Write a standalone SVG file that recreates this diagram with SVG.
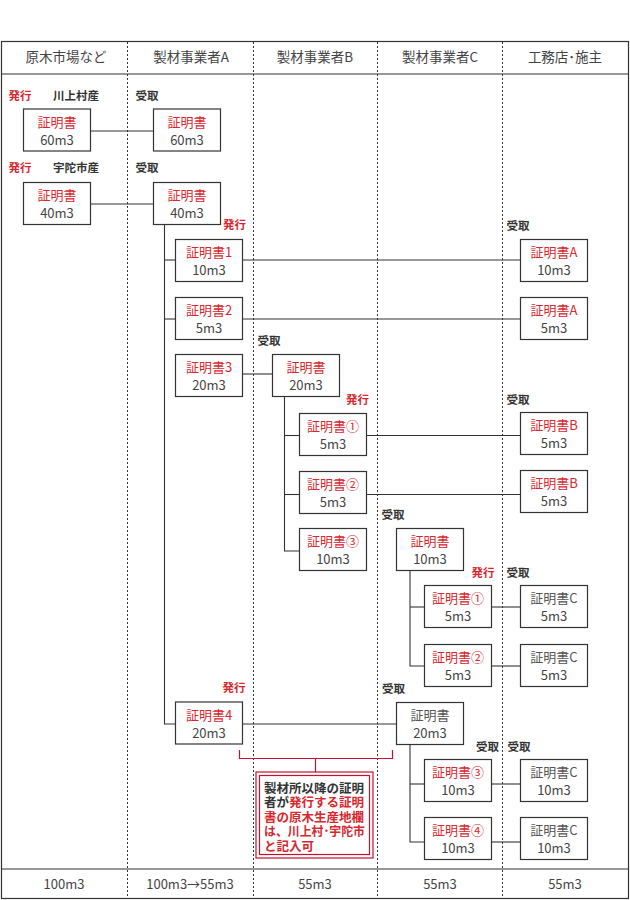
<svg xmlns="http://www.w3.org/2000/svg" width="630" height="900" viewBox="0 0 630 900">
<style>
text{font-family:"Noto Sans CJK JP","Noto Sans",sans-serif}
.hd{font-size:13.5px;fill:#444;text-anchor:middle}
.ft{font-size:13px;fill:#444;text-anchor:middle}
.box{fill:#fff;stroke:#333;stroke-width:1.2}
.t1{font-size:13px;fill:#d7282f;text-anchor:middle}
.t1g{font-size:13px;fill:#555;text-anchor:middle}
.t2{font-size:13px;fill:#444;text-anchor:middle}
.iss{font-size:11.5px;font-weight:bold;fill:#d7282f}
.rcv{font-size:11.5px;font-weight:bold;fill:#333}
.ln{stroke:#333;stroke-width:1.1;fill:none}
.dot{stroke:#333;stroke-width:1;stroke-dasharray:2 2}
.red{stroke:#c8102e;stroke-width:1.2;fill:none}
.nt{font-size:12.5px;font-weight:bold;fill:#333}
.nr{fill:#d7282f}
</style>
<rect x="0" y="0" width="630" height="900" fill="#fff"/>
<g id="frame">
<rect x="1.5" y="41.5" width="627" height="857" fill="none" stroke="#333" stroke-width="1.2"/>
<line x1="1.5" y1="74" x2="628.5" y2="74" stroke="#333" stroke-width="1.2"/>
<line x1="1.5" y1="869" x2="628.5" y2="869" stroke="#333" stroke-width="1.2"/>
<line class="dot" x1="127.5" y1="42" x2="127.5" y2="898"/>
<line class="dot" x1="253.5" y1="42" x2="253.5" y2="898"/>
<line class="dot" x1="377.5" y1="42" x2="377.5" y2="898"/>
<line class="dot" x1="502.5" y1="42" x2="502.5" y2="898"/>
</g>
<g id="header">
<text class="hd" x="66" y="62">原木市場など</text>
<text class="hd" x="191" y="62">製材事業者A</text>
<text class="hd" x="315" y="62">製材事業者B</text>
<text class="hd" x="440" y="62">製材事業者C</text>
<text class="hd" x="565" y="62">工務店･施主</text>
</g>
<g id="footer">
<text class="ft" x="64" y="889">100m3</text>
<text class="ft" x="190" y="889">100m3→55m3</text>
<text class="ft" x="315" y="889">55m3</text>
<text class="ft" x="440" y="889">55m3</text>
<text class="ft" x="565" y="889">55m3</text>
</g>
<g id="labels">
<text class="iss" x="8.5" y="100">発行</text>
<text class="rcv" x="53" y="100">川上村産</text>
<text class="rcv" x="135.5" y="100">受取</text>
<text class="iss" x="8.5" y="172">発行</text>
<text class="rcv" x="53" y="172">宇陀市産</text>
<text class="rcv" x="135.5" y="172">受取</text>
<text class="iss" x="223" y="229">発行</text>
<text class="rcv" x="506.5" y="229.5">受取</text>
<text class="rcv" x="257.5" y="345">受取</text>
<text class="iss" x="346" y="403.5">発行</text>
<text class="rcv" x="506.5" y="404">受取</text>
<text class="rcv" x="381.5" y="519">受取</text>
<text class="iss" x="471.5" y="576.5">発行</text>
<text class="rcv" x="506.5" y="576.5">受取</text>
<text class="iss" x="222.5" y="691.5">発行</text>
<text class="rcv" x="382" y="692.5">受取</text>
<text class="rcv" x="476" y="750.5">受取</text>
<text class="rcv" x="507.5" y="750.5">受取</text>
</g>
<g id="connectors">
<line class="ln" x1="90" y1="131" x2="153" y2="131"/>
<line class="ln" x1="90" y1="204" x2="153" y2="204"/>
<polyline class="ln" points="164.5,224 164.5,724 176,724"/>
<line class="ln" x1="164.5" y1="260" x2="176" y2="260"/>
<line class="ln" x1="164.5" y1="319" x2="176" y2="319"/>
<line class="ln" x1="242" y1="260" x2="520" y2="260"/>
<line class="ln" x1="242" y1="319" x2="520" y2="319"/>
<line class="ln" x1="242" y1="374" x2="272" y2="374"/>
<polyline class="ln" points="284.5,396 284.5,551 299,551"/>
<line class="ln" x1="284.5" y1="435.5" x2="299" y2="435.5"/>
<line class="ln" x1="284.5" y1="494.5" x2="299" y2="494.5"/>
<line class="ln" x1="367" y1="435.5" x2="520" y2="435.5"/>
<line class="ln" x1="367" y1="494.5" x2="520" y2="494.5"/>
<polyline class="ln" points="410,570 410,666 424,666"/>
<line class="ln" x1="410" y1="607" x2="424" y2="607"/>
<line class="ln" x1="491" y1="607" x2="520" y2="607"/>
<line class="ln" x1="491" y1="666" x2="520" y2="666"/>
<line class="ln" x1="242" y1="724" x2="396" y2="724"/>
<polyline class="ln" points="410,744 410,842 424,842"/>
<line class="ln" x1="410" y1="784" x2="424" y2="784"/>
<line class="ln" x1="491" y1="784" x2="520" y2="784"/>
<line class="ln" x1="491" y1="842" x2="520" y2="842"/>
<polyline class="red" points="239.5,750 239.5,758.5 392.5,758.5 392.5,750"/>
<line class="red" x1="315.5" y1="758.5" x2="315.5" y2="772"/>
</g>
<g id="n-kawakami"><rect class="box" x="23.5" y="109" width="67" height="42"/><text class="t1" x="57" y="126.5">証明書</text><text class="t2" x="57" y="144.5">60m3</text></g>
<g id="n-a60"><rect class="box" x="153.5" y="109" width="67" height="42"/><text class="t1" x="187" y="126.5">証明書</text><text class="t2" x="187" y="144.5">60m3</text></g>
<g id="n-uda"><rect class="box" x="23.5" y="182.5" width="67" height="42"/><text class="t1" x="57" y="200">証明書</text><text class="t2" x="57" y="218">40m3</text></g>
<g id="n-a40"><rect class="box" x="153.5" y="182.5" width="67" height="42"/><text class="t1" x="187" y="200">証明書</text><text class="t2" x="187" y="218">40m3</text></g>
<g id="n-a1"><rect class="box" x="175.5" y="239.5" width="67" height="42"/><text class="t1" x="209" y="257">証明書1</text><text class="t2" x="209" y="275">10m3</text></g>
<g id="n-a2"><rect class="box" x="175.5" y="297.5" width="67" height="42"/><text class="t1" x="209" y="315">証明書2</text><text class="t2" x="209" y="333">5m3</text></g>
<g id="n-a3"><rect class="box" x="175.5" y="354.5" width="67" height="42"/><text class="t1" x="209" y="372">証明書3</text><text class="t2" x="209" y="390">20m3</text></g>
<g id="n-a4"><rect class="box" x="175.5" y="702" width="67" height="42"/><text class="t1" x="209" y="719.5">証明書4</text><text class="t2" x="209" y="737.5">20m3</text></g>
<g id="n-k1"><rect class="box" x="520.5" y="239.5" width="67" height="42"/><text class="t1" x="554" y="257">証明書A</text><text class="t2" x="554" y="275">10m3</text></g>
<g id="n-k2"><rect class="box" x="520.5" y="297.5" width="67" height="42"/><text class="t1" x="554" y="315">証明書A</text><text class="t2" x="554" y="333">5m3</text></g>
<g id="n-b20"><rect class="box" x="272.5" y="354.5" width="67" height="42"/><text class="t1" x="306" y="372">証明書</text><text class="t2" x="306" y="390">20m3</text></g>
<g id="n-b1"><rect class="box" x="299.5" y="413.5" width="67" height="42"/><text class="t1" x="333" y="431">証明書①</text><text class="t2" x="333" y="449">5m3</text></g>
<g id="n-b2"><rect class="box" x="299.5" y="471.5" width="67" height="42"/><text class="t1" x="333" y="489">証明書②</text><text class="t2" x="333" y="507">5m3</text></g>
<g id="n-b3"><rect class="box" x="299.5" y="528.5" width="67" height="42"/><text class="t1" x="333" y="546">証明書③</text><text class="t2" x="333" y="564">10m3</text></g>
<g id="n-kb1"><rect class="box" x="520.5" y="412.5" width="67" height="42"/><text class="t1" x="554" y="430">証明書B</text><text class="t2" x="554" y="448">5m3</text></g>
<g id="n-kb2"><rect class="box" x="520.5" y="470.5" width="67" height="42"/><text class="t1" x="554" y="488">証明書B</text><text class="t2" x="554" y="506">5m3</text></g>
<g id="n-c10"><rect class="box" x="396.5" y="528.5" width="67" height="42"/><text class="t1" x="430" y="546">証明書</text><text class="t2" x="430" y="564">10m3</text></g>
<g id="n-c1"><rect class="box" x="424.5" y="585.5" width="67" height="42"/><text class="t1" x="458" y="603">証明書①</text><text class="t2" x="458" y="621">5m3</text></g>
<g id="n-c2"><rect class="box" x="424.5" y="644.5" width="67" height="42"/><text class="t1" x="458" y="662">証明書②</text><text class="t2" x="458" y="680">5m3</text></g>
<g id="n-kc1"><rect class="box" x="520.5" y="585.5" width="67" height="42"/><text class="t1g" x="554" y="603">証明書C</text><text class="t2" x="554" y="621">5m3</text></g>
<g id="n-kc2"><rect class="box" x="520.5" y="644.5" width="67" height="42"/><text class="t1g" x="554" y="662">証明書C</text><text class="t2" x="554" y="680">5m3</text></g>
<g id="n-c20"><rect class="box" x="396.5" y="702.5" width="67" height="42"/><text class="t1g" x="430" y="720">証明書</text><text class="t2" x="430" y="738">20m3</text></g>
<g id="n-c3"><rect class="box" x="424.5" y="759.5" width="67" height="42"/><text class="t1" x="458" y="777">証明書③</text><text class="t2" x="458" y="795">10m3</text></g>
<g id="n-c4"><rect class="box" x="424.5" y="817.5" width="67" height="42"/><text class="t1" x="458" y="835">証明書④</text><text class="t2" x="458" y="853">10m3</text></g>
<g id="n-kc3"><rect class="box" x="520.5" y="759.5" width="67" height="42"/><text class="t1g" x="554" y="777">証明書C</text><text class="t2" x="554" y="795">10m3</text></g>
<g id="n-kc4"><rect class="box" x="520.5" y="817.5" width="67" height="42"/><text class="t1g" x="554" y="835">証明書C</text><text class="t2" x="554" y="853">10m3</text></g>
<g id="note">
<rect x="256" y="772" width="117" height="86" fill="#fff" stroke="#c8102e" stroke-width="1.2"/>
<rect x="259.5" y="775.5" width="110" height="79" fill="none" stroke="#c8102e" stroke-width="1.2"/>
<text class="nt" x="264" y="792.5">製材所以降の証明</text>
<text class="nt" x="264" y="807">者が<tspan class="nr">発行する証明</tspan></text>
<text class="nt nr" x="264" y="821.5">書の原木生産地欄</text>
<text class="nt nr" x="264" y="836" textLength="101" lengthAdjust="spacingAndGlyphs">は、川上村･宇陀市</text>
<text class="nt nr" x="264" y="850.5">と記入可</text>
</g>
</svg>
